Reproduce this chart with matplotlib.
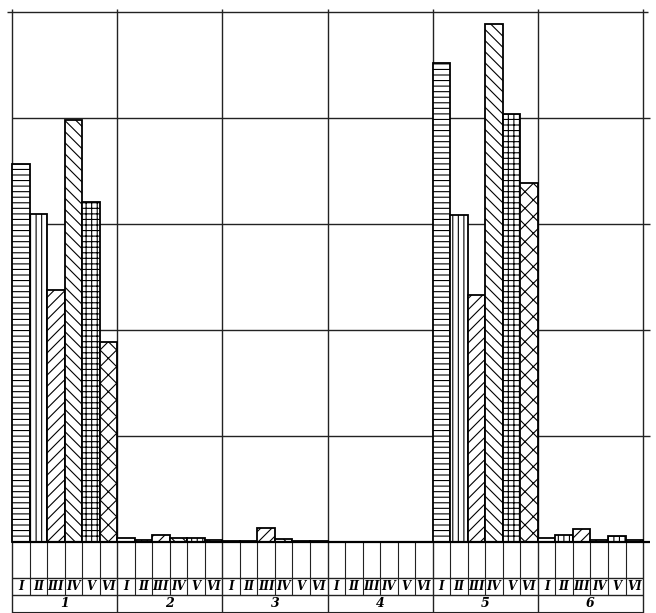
import matplotlib
matplotlib.use('Agg')
import matplotlib.pyplot as plt

# Group labels and bar labels (roman numerals under each bar)
groups = ['1', '2', '3', '4', '5', '6']
numerals = ['I', 'II', 'III', 'IV', 'V', 'VI']

# Bar heights per group (grid step = 10)
group1 = [35.7, 30.9, 23.8, 39.8, 32.1, 18.9]
group2 = [0.4, 0.2, 0.7, 0.35, 0.4, 0.2]
group3 = [0.1, 0.1, 1.3, 0.25, 0.1, 0.1]
group4 = [0, 0, 0, 0, 0, 0]
group5 = [45.2, 30.8, 23.3, 48.9, 40.4, 33.9]
group6 = [0.35, 0.7, 1.25, 0.2, 0.6, 0.2]
values = [group1, group2, group3, group4, group5, group6]

hatches = ['---', '|||', '///', '\\\\\\', '+++', 'xx']

plt.rcParams['hatch.linewidth'] = 0.8
plt.rcParams['hatch.color'] = 'black'

fig = plt.figure(figsize=(6.56, 6.13), dpi=100)
ax = fig.add_axes([0, 0, 1, 1])
ax.set_xlim(-0.685, 36.74)
ax.set_ylim(-6.70, 51.13)
ax.axis('off')

n = len(numerals)
total = n * len(groups)

# grid
for yv in [10, 20, 30, 40, 50]:
    ax.hlines(yv, -0.3 if yv == 50 else 0, total + 0.3 if yv == 50 else total + 0.4,
              color='#222222', lw=1.0, zorder=1)
ax.hlines(0, 0, total + 0.4, color='black', lw=1.6, zorder=4)
ax.hlines([-3.4, -5.0], 0, total, color='#222222', lw=1.0, zorder=1)
ax.hlines(-6.6, 0, total, color='#222222', lw=0.8, zorder=1)

for g in range(len(groups) + 1):
    ax.vlines(g * n, -6.7, 50.3, color='#222222', lw=1.0, zorder=1)
for k in range(total):
    if k % n:
        ax.vlines(k, -5.0, 0, color='#222222', lw=0.8, zorder=1)

# bars
for g, vals in enumerate(values):
    for i, v in enumerate(vals):
        if v <= 0:
            continue
        ax.bar(g * n + i + 0.5, v, width=1.0, facecolor='white',
               edgecolor='black', hatch=hatches[i], linewidth=1.3, zorder=3)

# labels
for g, name in enumerate(groups):
    for i, r in enumerate(numerals):
        ax.text(g * n + i + 0.5, -4.2, r, ha='center', va='center',
                fontsize=8.5, fontweight='bold', fontstyle='italic',
                family='DejaVu Serif')
    ax.text(g * n + 3, -5.8, name, ha='center', va='center',
            fontsize=9, fontweight='bold', fontstyle='italic',
            family='DejaVu Serif')

fig.savefig('out.png', dpi=100)
